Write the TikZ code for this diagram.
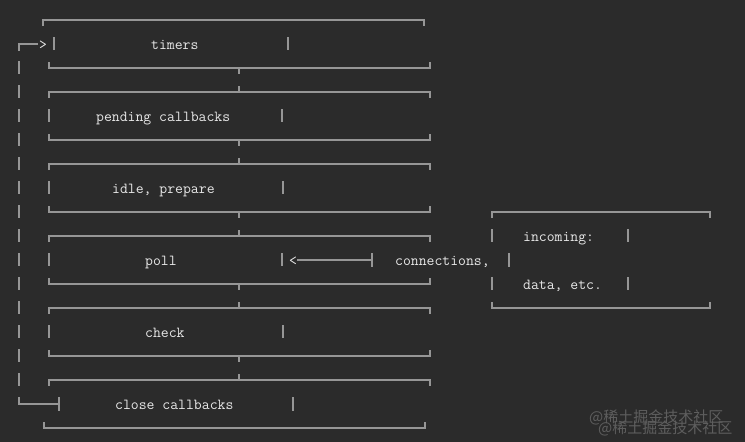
\documentclass[tikz,border=0pt]{standalone}
\usepackage{fontspec}
\newfontfamily\cjk{Noto Sans CJK SC}
\definecolor{bgc}{HTML}{2B2B2B}
\definecolor{linec}{HTML}{969696}
\definecolor{txtc}{HTML}{E8E8E8}
\definecolor{wmc}{HTML}{5E5E5E}
\begin{document}
\begin{tikzpicture}[x=1pt,y=-1pt,
  ln/.style={draw=linec,line width=1.1pt},
  lbl/.style={anchor=base west,inner sep=0pt,text=txtc,font=\fontsize{15.3}{18}\selectfont\ttfamily},
  wm/.style={anchor=base west,inner sep=0pt,text=wmc,font=\fontsize{15}{18}\selectfont\cjk}]
\fill[bgc] (0,0) rectangle (745,442);
\useasboundingbox (0,0) rectangle (745,442);
% ---- top box (timers) top edge
\draw[ln] (43,26) -- (43,20) -- (424,20) -- (424,26);
% ---- middle box edges
\foreach \yb in {68,140,212,284,356}{
  \draw[ln] (49,\yb-6) -- (49,\yb) -- (430,\yb) -- (430,\yb-6);
  \draw[ln] (239,\yb) -- (239,\yb+6);
}
\foreach \yt in {92,164,236,308,380}{
  \draw[ln] (49,\yt+6) -- (49,\yt) -- (430,\yt) -- (430,\yt+6);
  \draw[ln] (239,\yt) -- (239,\yt-6);
}
% ---- last box bottom edge
\draw[ln] (44,422) -- (44,428) -- (425,428) -- (425,422);
% ---- inner side bars
\draw[ln] (54,37) -- (54,50);  \draw[ln] (288,37) -- (288,50);
\foreach \yr/\xr in {116/282,188/283,260/282,332/283}{
  \draw[ln] (49,\yr-7) -- (49,\yr+6);
  \draw[ln] (\xr,\yr-7) -- (\xr,\yr+6);
}
\draw[ln] (293,397) -- (293,411);
% ---- loop back on the left
\draw[ln] (19,51) -- (19,44) -- (38,44);
\node[lbl] (gt) at (39,49) {>};
\foreach \k in {2,...,15}{
  \draw[ln] (19,20+24*\k-7) -- (19,20+24*\k+6);
}
\draw[ln] (19,397) -- (19,404) -- (59,404);
\draw[ln] (59,397) -- (59,411);
% ---- incoming box
\draw[ln] (492,218) -- (492,212) -- (710,212) -- (710,218);
\draw[ln] (492,302) -- (492,308) -- (710,308) -- (710,302);
\draw[ln] (492,229) -- (492,242); \draw[ln] (628,229) -- (628,242);
\draw[ln] (492,277) -- (492,290); \draw[ln] (628,277) -- (628,290);
\draw[ln] (509,253) -- (509,267);
% ---- arrow into poll
\coordinate (arrS) at (372,260);
\coordinate (arrE) at (297,260);
\draw[ln] (arrS) -- (arrE);
\draw[ln] (372,253) -- (372,267);
\node[lbl] (lt) at (289,265) {<};
% ---- labels
\node[lbl] (timers) at (151,49) {timers};
\node[lbl] (pending) at (96,121) {pending callbacks};
\node[lbl] (idle) at (112,193) {idle, prepare};
\node[lbl] (poll) at (145,265) {poll};
\node[lbl] (check) at (145,337) {check};
\node[lbl] (close) at (115,409) {close callbacks};
\node[lbl] (incoming) at (523,241) {incoming:};
\node[lbl] (conn) at (395,265) {connections,};
\node[lbl] (data) at (523,289) {data, etc.};
% ---- watermark
\node[wm] (wm1) at (589,422) {@稀土掘金技术社区};
\node[wm] (wm2) at (598,433) {@稀土掘金技术社区};
\end{tikzpicture}
\end{document}
